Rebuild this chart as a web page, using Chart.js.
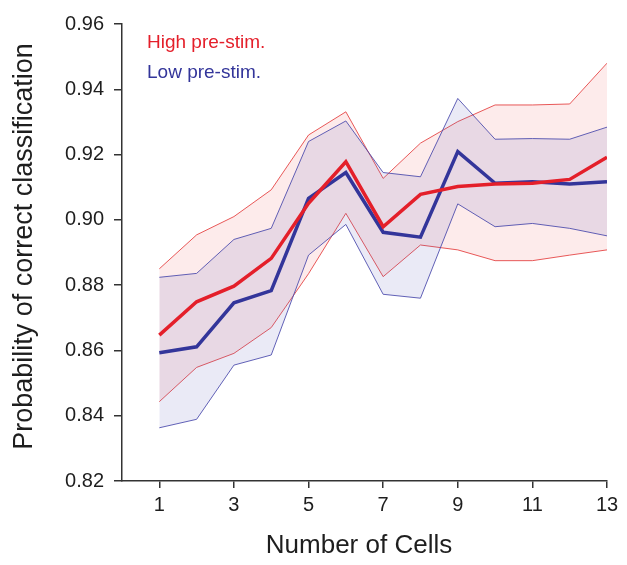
<!DOCTYPE html>
<html>
<head>
<meta charset="utf-8">
<script src="https://cdn.jsdelivr.net/npm/chart.js@4.4.1/dist/chart.umd.min.js"></script>
<style>
  html, body { margin: 0; padding: 0; background: #ffffff; }
  #wrap { width: 627px; height: 565px; position: relative; }
</style>
</head>
<body>
<div id="wrap"><canvas id="c" width="627" height="565"></canvas></div>
<script>
// ---- Data ----
const cells = [1, 2, 3, 4, 5, 6, 7, 8, 9, 10, 11, 12, 13];
const xTickValues = [1, 3, 5, 7, 9, 11, 13];
const yTickValues = [0.82, 0.84, 0.86, 0.88, 0.90, 0.92, 0.94, 0.96];

const highMean  = [0.8647, 0.8749, 0.8797, 0.8882, 0.9051, 0.9178, 0.8979, 0.9078, 0.9102, 0.9110, 0.9112, 0.9124, 0.9192];
const highUpper = [0.8850, 0.8954, 0.9010, 0.9092, 0.9260, 0.9331, 0.9127, 0.9235, 0.9301, 0.9352, 0.9352, 0.9355, 0.9480];
const highLower = [0.8443, 0.8548, 0.8591, 0.8670, 0.8835, 0.9020, 0.8826, 0.8923, 0.8908, 0.8875, 0.8875, 0.8892, 0.8908];

const lowMean  = [0.8593, 0.8611, 0.8746, 0.8783, 0.9066, 0.9145, 0.8962, 0.8947, 0.9209, 0.9112, 0.9117, 0.9110, 0.9117];
const lowUpper = [0.8824, 0.8836, 0.8940, 0.8974, 0.9240, 0.9303, 0.9145, 0.9132, 0.9372, 0.9247, 0.9249, 0.9247, 0.9284];
const lowLower = [0.8363, 0.8389, 0.8555, 0.8586, 0.8892, 0.8986, 0.8772, 0.8760, 0.9049, 0.8979, 0.8989, 0.8974, 0.8951];

const seriesNames = ['High pre-stim.', 'Low pre-stim.'];
const xTitle = 'Number of Cells';
const yTitle = 'Probability of correct classification';

// ---- Styles ----
const RED = '#e41f2a';
const BLUE = '#33359a';
const FONT = "'Liberation Sans', Arial, Helvetica, sans-serif";

const pts = arr => arr.map((v, i) => ({ x: cells[i], y: v }));

const datasets = [
  { label: 'high-upper', data: pts(highUpper), borderColor: 'rgba(228,60,60,0.85)', borderWidth: 1,
    backgroundColor: 'rgba(240,90,90,0.12)', fill: '+1', pointRadius: 0, tension: 0, order: 6 },
  { label: 'high-lower', data: pts(highLower), borderColor: 'rgba(228,60,60,0.85)', borderWidth: 1,
    fill: false, pointRadius: 0, tension: 0, order: 5 },
  { label: 'low-upper', data: pts(lowUpper), borderColor: 'rgba(70,70,170,0.85)', borderWidth: 1,
    backgroundColor: 'rgba(90,90,185,0.13)', fill: '+1', pointRadius: 0, tension: 0, order: 4 },
  { label: 'low-lower', data: pts(lowLower), borderColor: 'rgba(70,70,170,0.85)', borderWidth: 1,
    fill: false, pointRadius: 0, tension: 0, order: 3 },
  { label: seriesNames[1], data: pts(lowMean), borderColor: BLUE, borderWidth: 3.5,
    fill: false, pointRadius: 0, tension: 0, order: 2 },
  { label: seriesNames[0], data: pts(highMean), borderColor: RED, borderWidth: 3.5,
    fill: false, pointRadius: 0, tension: 0, order: 1 }
];

const textPlugin = {
  id: 'textLegendTitles',
  afterDraw(chart) {
    const ctx = chart.ctx;
    ctx.save();
    // legend
    ctx.font = '19px ' + FONT;
    ctx.textAlign = 'left';
    ctx.textBaseline = 'alphabetic';
    ctx.fillStyle = RED;
    ctx.fillText(seriesNames[0], 147, 48);
    ctx.fillStyle = BLUE;
    ctx.fillText(seriesNames[1], 147, 78);
    // axis titles
    ctx.fillStyle = '#1e1e1e';
    ctx.font = '26px ' + FONT;
    ctx.textAlign = 'center';
    ctx.fillText(xTitle, 359, 553);
    ctx.translate(32, 246.5);
    ctx.rotate(-Math.PI / 2);
    ctx.font = '27px ' + FONT;
    ctx.fillText(yTitle, 0, 0);
    ctx.restore();
  }
};

new Chart(document.getElementById('c'), {
  type: 'line',
  data: { datasets },
  plugins: [textPlugin],
  options: {
    responsive: false,
    animation: false,
    devicePixelRatio: 1,
    layout: { padding: { left: 0, right: 20, top: 24, bottom: 0 } },
    plugins: { legend: { display: false }, tooltip: { enabled: false } },
    scales: {
      x: {
        type: 'linear',
        min: 0, max: 13,
        afterBuildTicks(scale) { scale.ticks = xTickValues.map(v => ({ value: v })); },
        afterFit(scale) { scale.height = 84; },
        grid: { drawOnChartArea: false, drawTicks: true, tickLength: 7, color: '#333', lineWidth: 1.5 },
        border: { display: true, color: '#333', width: 1.5 },
        ticks: { color: '#1e1e1e', font: { size: 20, family: FONT }, padding: 5, maxRotation: 0,
                 callback: v => String(v) },
        title: { display: false }
      },
      y: {
        type: 'linear',
        min: 0.82, max: 0.96,
        afterBuildTicks(scale) { scale.ticks = yTickValues.map(v => ({ value: v })); },
        afterFit(scale) { scale.width = 122; },
        grid: { drawOnChartArea: false, drawTicks: true, tickLength: 8, color: '#333', lineWidth: 1.5 },
        border: { display: true, color: '#333', width: 1.5 },
        ticks: { color: '#1e1e1e', font: { size: 20, family: FONT }, padding: 10,
                 callback: v => Number(v).toFixed(2) },
        title: { display: false }
      }
    }
  }
});
</script>
</body>
</html>
